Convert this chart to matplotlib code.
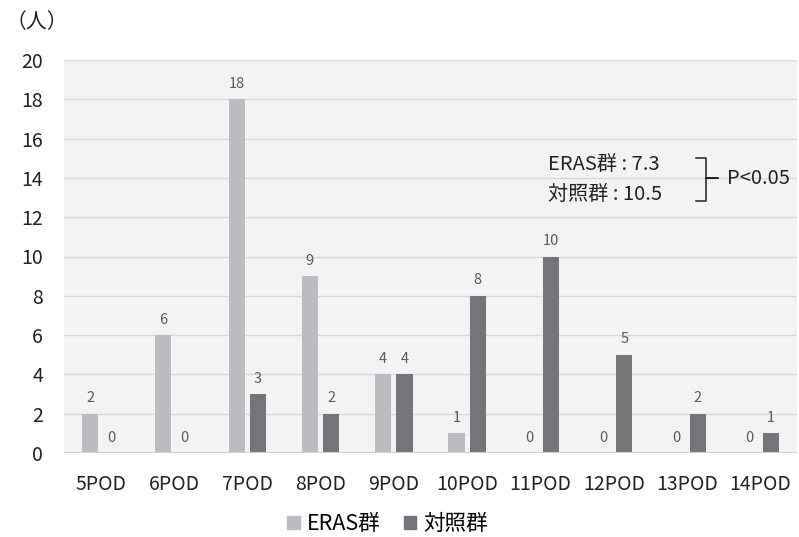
import numpy as np
import matplotlib.pyplot as plt
from matplotlib.patches import Patch

plt.rcParams['font.family'] = ['Noto Sans CJK JP', 'DejaVu Sans']

# データ
days = ['5POD', '6POD', '7POD', '8POD', '9POD', '10POD', '11POD', '12POD', '13POD', '14POD']
eras = [2, 6, 18, 9, 4, 1, 0, 0, 0, 0]
control = [0, 0, 3, 2, 4, 8, 10, 5, 2, 1]
yticks = [0, 2, 4, 6, 8, 10, 12, 14, 16, 18, 20]

c_eras = '#bbbcbf'
c_ctrl = '#747578'
W, H = 799, 537

fig = plt.figure(figsize=(W/100, H/100), dpi=100)
ax = fig.add_axes([64/W, 84/H, (797-64)/W, 393/H])
ax.set_facecolor('#f2f3f3')

x = np.arange(len(days))
bw = 0.22
off = 0.145
ax.bar(x - off, eras, bw, color=c_eras, zorder=3)
ax.bar(x + off, control, bw, color=c_ctrl, zorder=3)

for xi, v in zip(x, eras):
    ax.annotate(str(v), (xi - off, v), xytext=(0, 6), textcoords='offset points',
                ha='center', va='bottom', fontsize=10.5, color='#595959')
for xi, v in zip(x, control):
    ax.annotate(str(v), (xi + off, v), xytext=(0, 6), textcoords='offset points',
                ha='center', va='bottom', fontsize=10.5, color='#595959')

ax.set_xlim(-0.5, len(days) - 0.5)
ax.set_ylim(0, 20)
ax.set_yticks(yticks)
ax.set_xticks(x)
ax.set_xticklabels(days)
ax.tick_params(axis='both', length=0, labelsize=14, colors='#222222')
ax.tick_params(axis='y', pad=15)
ax.tick_params(axis='x', pad=15)
ax.grid(axis='y', color='#d9d9d9', linewidth=1, zorder=0)
for s in ax.spines.values():
    s.set_visible(False)
ax.axhline(0, color='#d0d0d0', linewidth=1.5, zorder=4)

# 単位
fig.text(6/W, 1 - 22/H, '（人）', fontsize=15, va='center', ha='left', color='#222222')

# 平均値の注記
fig.text(548/W, 1 - 164/H, 'ERAS群 : 7.3', fontsize=14.5, va='center', ha='left', color='#222222')
fig.text(548/W, 1 - 194/H, '対照群 : 10.5', fontsize=14.5, va='center', ha='left', color='#222222')
bx = np.array([696, 706, 706, 718, 706, 706, 696]) / W
by = 1 - np.array([158, 158, 178, 178, 178, 201, 201]) / H
fig.add_artist(plt.Line2D(bx, by, color='#222222', linewidth=1.1))
fig.text(727/W, 1 - 179/H, 'P<0.05', fontsize=14.5, va='center', ha='left', color='#222222')

# 凡例
handles = [Patch(color=c_eras, label='ERAS群'), Patch(color=c_ctrl, label='対照群')]
fig.legend(handles=handles, loc='center', bbox_to_anchor=(0.485, 1 - 524/H), ncol=2,
           frameon=False, fontsize=15.5, handlelength=0.57, handleheight=0.57,
           handletextpad=0.32, columnspacing=1.1, borderpad=0.2)

fig.savefig('out.png', dpi=100)
